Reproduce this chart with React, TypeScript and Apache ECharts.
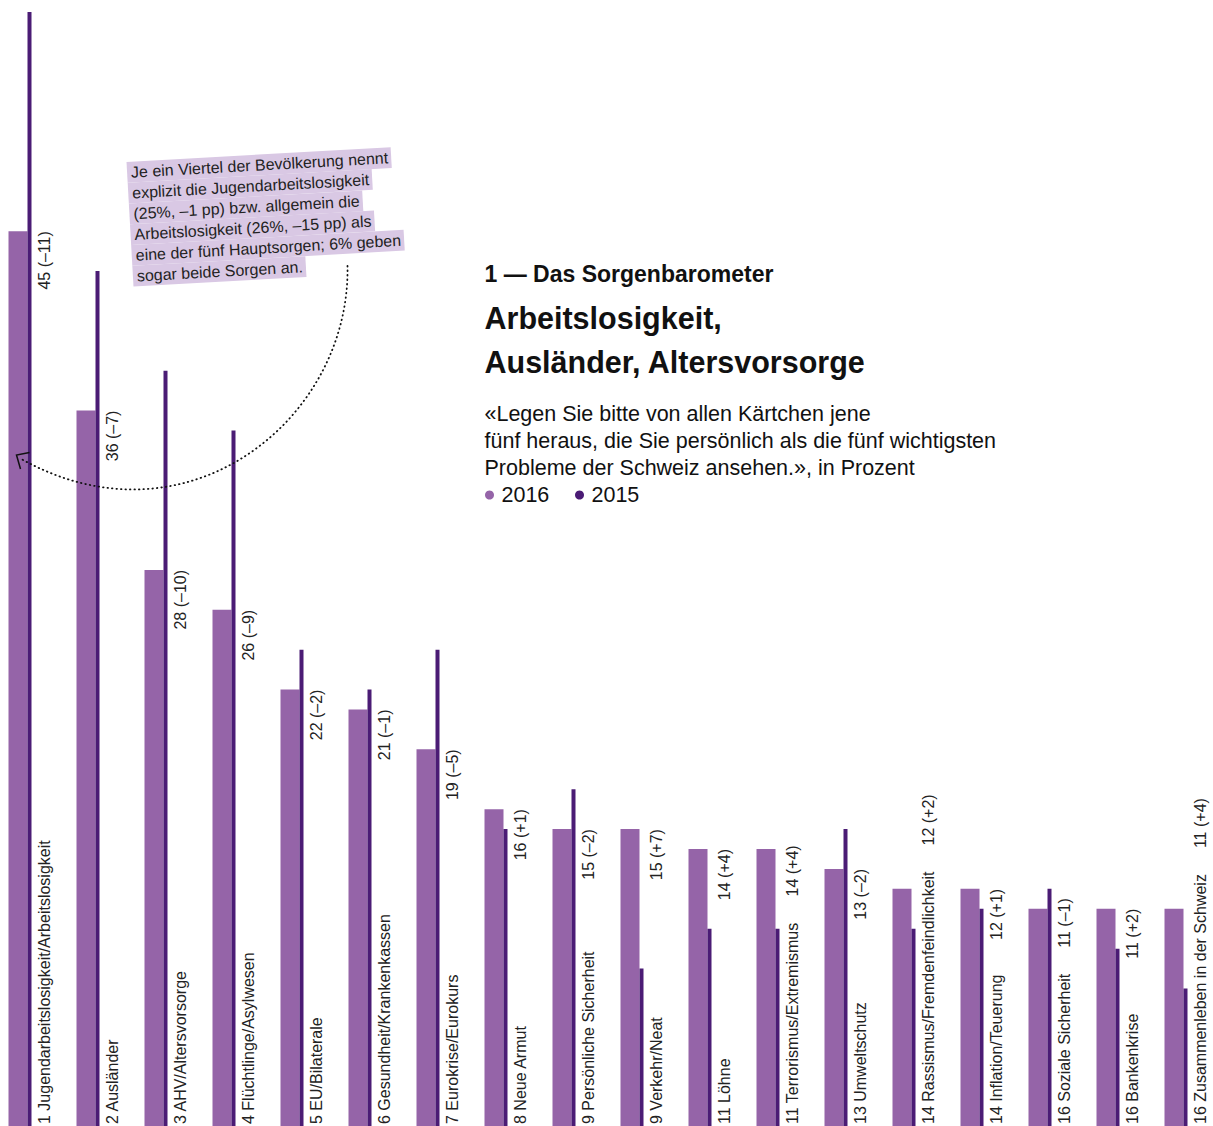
import React, { useEffect, useRef } from "react";
import * as echarts from "echarts";

const categories = [
  "Jugendarbeitslosigkeit/Arbeitslosigkeit",
  "Ausländer",
  "AHV/Altersvorsorge",
  "Flüchtlinge/Asylwesen",
  "EU/Bilaterale",
  "Gesundheit/Krankenkassen",
  "Eurokrise/Eurokurs",
  "Neue Armut",
  "Persönliche Sicherheit",
  "Verkehr/Neat",
  "Löhne",
  "Terrorismus/Extremismus",
  "Umweltschutz",
  "Rassismus/Fremdenfeindlichkeit",
  "Inflation/Teuerung",
  "Soziale Sicherheit",
  "Bankenkrise",
  "Zusammenleben in der Schweiz",
];
const ranks = [1, 2, 3, 4, 5, 6, 7, 8, 9, 9, 11, 11, 13, 14, 14, 16, 16, 16];
const values2016 = [45, 36, 28, 26, 22, 21, 19, 16, 15, 15, 14, 14, 13, 12, 12, 11, 11, 11];
const values2015 = [56, 43, 38, 35, 24, 22, 24, 15, 17, 8, 10, 10, 15, 10, 11, 12, 9, 7];
const changes = ["–11", "–7", "–10", "–9", "–2", "–1", "–5", "+1", "–2", "+7", "+4", "+4", "–2", "+2", "+1", "–1", "+2", "+4"];

const noteLines = [
  "Je ein Viertel der Bevölkerung nennt",
  "explizit die Jugendarbeitslosigkeit",
  "(25%, –1 pp) bzw. allgemein die",
  "Arbeitslosigkeit (26%, –15 pp) als",
  "eine der fünf Hauptsorgen; 6% geben",
  "sogar beide Sorgen an.",
];
const subtitleLines = [
  "«Legen Sie bitte von allen Kärtchen jene",
  "fünf heraus, die Sie persönlich als die fünf wichtigsten",
  "Probleme der Schweiz ansehen.», in Prozent",
];

const FONT = '"Liberation Sans", Arial, Helvetica, sans-serif';
const C2016 = "#9564a8";
const C2015 = "#4b1c75";
const LABEL_FONT = `16px ${FONT}`;
const OX = 14.5;
const Z = 100;

export default function App() {
  const ref = useRef<HTMLDivElement>(null);
  useEffect(() => {
    if (!ref.current) return;
    const chart = echarts.init(ref.current, undefined, { renderer: "svg" });
    const canvas = document.createElement("canvas");
    const ctx = canvas.getContext("2d")!;
    ctx.font = LABEL_FONT;
    const measure = (t: string) => ctx.measureText(t).width;

    const option: any = {
      animation: false,
      grid: { left: 0, width: 1224, top: 8, bottom: 2, containLabel: false },
      xAxis: { type: "category", data: categories, show: false },
      yAxis: { type: "value", min: 0, max: 56.2, show: false },
      series: [
        {
          name: "2016",
          type: "bar",
          data: values2016,
          barWidth: 19,
          barGap: "0%",
          itemStyle: { color: C2016 },
          silent: true,
        },
        {
          name: "2015",
          type: "bar",
          data: values2015,
          barWidth: 4,
          barGap: "0%",
          itemStyle: { color: C2015 },
          silent: true,
        },
        {
          type: "custom",
          data: values2016.map((v, i) => [i, v]),
          encode: { x: 0, y: 1 },
          silent: true,
          renderItem: (params: any, api: any) => {
            const i = api.value(0);
            const v = api.value(1);
            const base = api.coord([i, 0]);
            const top = api.coord([i, v]);
            const x = base[0] + 24.5;
            const catText = `${ranks[i]} ${categories[i]}`;
            const valText = `${values2016[i]} (${changes[i]})`;
            const catW = measure(catText);
            const valW = measure(valText);
            const catStart = base[1] - 4;
            const catEnd = catStart - catW;
            const valTop = Math.min(top[1], catEnd - 26 - valW);
            return {
              type: "group",
              children: [
                {
                  type: "text",
                  x,
                  y: catStart,
                  rotation: Math.PI / 2,
                  style: { text: catText, font: LABEL_FONT, fill: "#222", align: "left", verticalAlign: "middle" },
                },
                {
                  type: "text",
                  x,
                  y: valTop,
                  rotation: Math.PI / 2,
                  style: { text: valText, font: LABEL_FONT, fill: "#222", align: "right", verticalAlign: "middle" },
                },
              ],
            };
          },
        },
      ],
      graphic: [
        {
          type: "group",
          x: OX,
          y: 0,
          z: Z,
          children: [
            {
              type: "group",
              x: 126,
              y: 162,
              rotation: 0.056,
              z: Z,
              children: noteLines.map((t, k) => ({
                type: "text",
                x: 0,
                y: k * 20.8,
                z: Z,
                style: {
                  text: t,
                  font: `16px ${FONT}`,
                  fill: "#222",
                  align: "left",
                  verticalAlign: "top",
                  backgroundColor: "#d9c8e4",
                  padding: [2, 3, 2, 4],
                  lineHeight: 16.8,
                },
              })),
            },
            {
              type: "bezierCurve",
              z: Z,
              shape: { x1: 347, y1: 266, cpx1: 350, cpy1: 420, cpx2: 185, cpy2: 552, x2: 19, y2: 458 },
              style: { stroke: "#111", lineWidth: 1.8, lineDash: [0.5, 4], lineCap: "round", fill: "none" },
              silent: true,
            },
            {
              type: "polyline",
              z: Z,
              shape: { points: [[29, 452.5], [16, 455], [20, 469]] },
              style: { stroke: "#111", lineWidth: 1.5, fill: "none" },
              silent: true,
            },
            {
              type: "text",
              z: Z,
              x: 484,
              y: 274,
              style: { text: "1 — Das Sorgenbarometer", font: `bold 23px ${FONT}`, fill: "#111", verticalAlign: "middle" },
            },
            {
              type: "text",
              z: Z,
              x: 484,
              y: 318,
              style: { text: "Arbeitslosigkeit,", font: `bold 30.5px ${FONT}`, fill: "#111", verticalAlign: "middle" },
            },
            {
              type: "text",
              z: Z,
              x: 484,
              y: 362,
              style: { text: "Ausländer, Altersvorsorge", font: `bold 30.5px ${FONT}`, fill: "#111", verticalAlign: "middle" },
            },
            ...subtitleLines.map((t, k) => ({
              type: "text",
              z: Z,
              x: 484,
              y: 414 + k * 27,
              style: { text: t, font: `21.5px ${FONT}`, fill: "#111", verticalAlign: "middle" },
            })),
            { type: "circle", z: Z, shape: { cx: 489, cy: 495, r: 4.5 }, style: { fill: C2016 } },
            {
              type: "text",
              z: Z,
              x: 501,
              y: 495,
              style: { text: "2016", font: `21.5px ${FONT}`, fill: "#111", verticalAlign: "middle" },
            },
            { type: "circle", z: Z, shape: { cx: 579, cy: 495, r: 4.5 }, style: { fill: C2015 } },
            {
              type: "text",
              z: Z,
              x: 591,
              y: 495,
              style: { text: "2015", font: `21.5px ${FONT}`, fill: "#111", verticalAlign: "middle" },
            },
          ],
        },
      ],
    };
    chart.setOption(option);
    return () => chart.dispose();
  }, []);
  return (
    <div
      style={{ position: "absolute", left: 0, top: 0, width: 1213, height: 1126, overflow: "hidden", background: "#fff" }}
    >
      <div ref={ref} style={{ position: "absolute", left: -OX, top: 0, width: 1240, height: 1130 }} />
    </div>
  );
}
